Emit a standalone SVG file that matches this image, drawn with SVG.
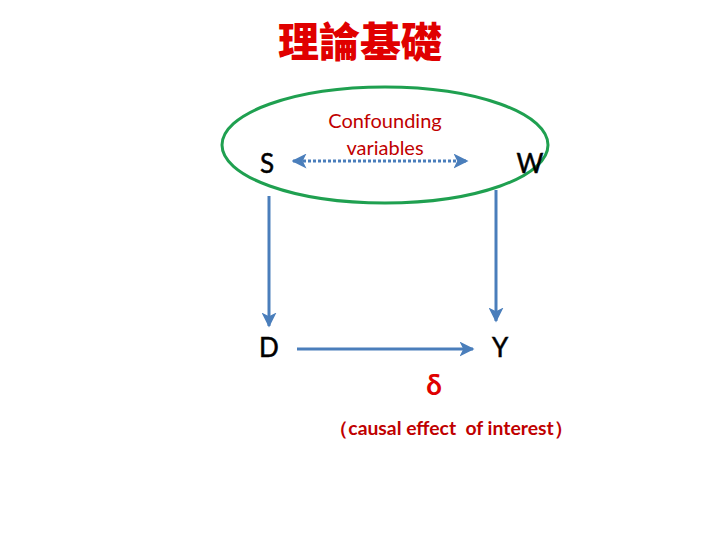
<svg xmlns="http://www.w3.org/2000/svg" width="720" height="540" viewBox="0 0 720 540">
<defs>
<style>
.lbl{font-family:Lato,"Liberation Sans",sans-serif;font-size:26px;fill:#000;stroke:#000;stroke-width:0.5;text-anchor:middle}
.red{fill:#C00000;font-family:Lato,"Liberation Sans",sans-serif;text-anchor:middle}
.conn{stroke:#4A7EBB;stroke-width:3;fill:none}
</style>
<marker id="ah" viewBox="0 0 10 10" refX="9" refY="5" markerWidth="5" markerHeight="5" orient="auto-start-reverse" markerUnits="strokeWidth">
<path d="M0,0 L10,5 L0,10 L2.5,5 z" fill="#4A7EBB"/>
</marker>
</defs>
<rect width="720" height="540" fill="#fff"/>
<text x="360" y="57" font-family="'Noto Sans CJK TC','Noto Sans CJK SC',sans-serif" font-size="41" font-weight="900" fill="#E00000" text-anchor="middle">理論基礎</text>
<g id="confounders">
<ellipse cx="385" cy="145" rx="163" ry="58" fill="none" stroke="#1FA050" stroke-width="3"/>
<text class="red" x="385" y="128" font-size="20">Confounding</text>
<text class="red" x="385" y="155" font-size="20">variables</text>
</g>
<g id="S"><text class="lbl" x="267" y="173">S</text></g>
<g id="W"><text class="lbl" x="530" y="173">W</text></g>
<g id="D"><text class="lbl" x="269" y="357">D</text></g>
<g id="Y"><text class="lbl" x="500" y="357">Y</text></g>
<g id="delta">
<text x="434" y="395" font-family="Lato,'Liberation Sans',sans-serif" font-size="28" font-weight="bold" fill="#E00000" text-anchor="middle">δ</text>
<text class="red" x="451" y="435" font-size="19" font-weight="bold" textLength="244" lengthAdjust="spacingAndGlyphs" xml:space="preserve" style="white-space:pre">（causal effect  of interest）</text>
</g>
<g id="connectors">
<line class="conn" x1="293" y1="161" x2="467" y2="161" stroke-dasharray="3 2" marker-start="url(#ah)" marker-end="url(#ah)"/>
<line class="conn" x1="269" y1="196" x2="269" y2="326" marker-end="url(#ah)"/>
<line class="conn" x1="496" y1="190" x2="496" y2="321" marker-end="url(#ah)"/>
<line class="conn" x1="297" y1="349" x2="473" y2="349" marker-end="url(#ah)"/>
</g>
</svg>
